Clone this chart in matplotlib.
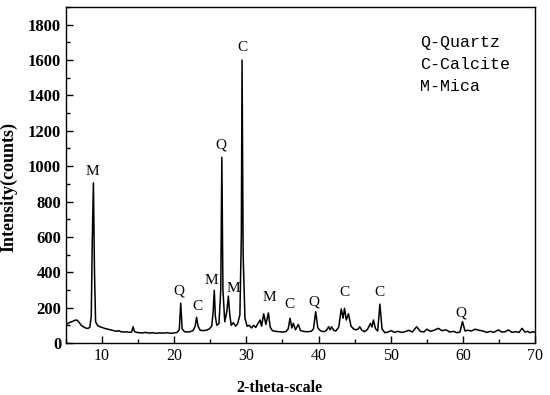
import matplotlib
matplotlib.use("Agg")
import matplotlib.pyplot as plt
from matplotlib.ticker import MultipleLocator

two_theta = [
    5.0, 5.3, 5.6, 5.9, 6.2, 6.5, 6.8, 7.1, 7.4, 7.7,
    8.0, 8.3, 8.5, 8.65, 8.8, 8.95, 9.1, 9.4, 9.7, 10.0,
    10.4, 10.8, 11.2, 11.6, 12.0, 12.3, 12.6, 13.0, 13.4, 13.8,
    14.1, 14.3, 14.5, 14.8, 15.2, 15.6, 16.0, 16.5, 17.0, 17.5,
    18.0, 18.5, 19.0, 19.5, 20.0, 20.4, 20.7, 20.9, 21.1, 21.4,
    21.8, 22.2, 22.6, 22.9, 23.1, 23.3, 23.6, 24.0, 24.4, 24.8,
    25.2, 25.4, 25.55, 25.7, 25.9, 26.2, 26.45, 26.6, 26.75, 27.0,
    27.3, 27.5, 27.7, 27.9, 28.2, 28.5, 28.8, 29.1, 29.3, 29.4,
    29.55, 29.8, 30.1, 30.4, 30.7, 31.0, 31.3, 31.6, 31.9, 32.1,
    32.4, 32.7, 33.05, 33.3, 33.6, 34.0, 34.5, 35.0, 35.5, 35.8,
    36.05, 36.3, 36.5, 36.8, 37.2, 37.5, 38.0, 38.5, 39.0, 39.3,
    39.6, 39.9, 40.3, 40.8, 41.1, 41.4, 41.6, 41.8, 42.1, 42.4,
    42.8, 43.15, 43.4, 43.6, 43.85, 44.15, 44.5, 44.9, 45.2, 45.5,
    45.7, 46.0, 46.4, 46.8, 47.2, 47.4, 47.6, 47.9, 48.2, 48.5,
    48.8, 49.2, 49.6, 50.1, 50.5, 51.0, 51.5, 52.0, 52.5, 53.0,
    53.6, 54.1, 54.6, 55.0, 55.5, 56.0, 56.6, 57.1, 57.7, 58.2,
    58.7, 59.2, 59.6, 59.95, 60.3, 60.7, 61.2, 61.7, 62.2, 62.8,
    63.3, 63.8, 64.3, 64.9, 65.4, 65.9, 66.3, 66.8, 67.3, 67.8,
    68.2, 68.6, 69.0, 69.3, 69.7, 70.0,
]
intensity = [
    105, 112, 118, 122, 128, 130, 118, 100, 92, 85,
    82, 88, 150, 600, 905, 400, 120, 98, 92, 88,
    82, 78, 74, 70, 66, 70, 64, 62, 63, 60,
    62, 92, 64, 60, 58, 57, 60, 56, 58, 55,
    57, 56, 58, 55, 57, 60, 75, 225, 80, 64,
    62, 64, 70, 95, 145, 95, 72, 70, 72, 78,
    95, 180, 298, 150, 100, 110, 300, 1050, 300, 120,
    180, 265, 160, 100, 115, 95, 110, 160, 600, 1600,
    500, 140, 95, 100, 85, 100, 88, 110, 130, 95,
    165, 105, 170, 90, 70, 66, 64, 62, 65, 80,
    140, 85, 112, 75, 105, 70, 65, 64, 66, 80,
    177, 85, 68, 64, 72, 92, 75, 92, 72, 68,
    90, 192, 140, 196, 130, 165, 95, 78, 74, 80,
    92, 72, 64, 78, 111, 90, 130, 80, 68, 220,
    80, 58, 62, 70, 60, 66, 60, 64, 72, 62,
    92, 66, 62, 78, 66, 72, 83, 70, 74, 62,
    66, 58, 62, 121, 68, 72, 68, 78, 72, 68,
    60, 66, 60, 74, 62, 64, 74, 60, 64, 60,
    83, 62, 66, 58, 64, 60,
]

label_text = ["M", "Q", "C", "M", "Q", "M", "C", "M", "C", "Q", "C", "C", "Q"]
label_x = [8.6, 20.7, 23.2, 25.1, 26.5, 28.2, 29.4, 33.2, 36.0, 39.4, 43.6, 48.5, 59.7]
label_y = [968, 294, 204, 356, 1120, 311, 1670, 260, 215, 232, 283, 283, 170]

legend_lines = ["Q-Quartz", "C-Calcite", "M-Mica"]

x_ticks = [10, 20, 30, 40, 50, 60, 70]
y_ticks = [0, 200, 400, 600, 800, 1000, 1200, 1400, 1600, 1800]

fig = plt.figure(figsize=(5.5, 3.95), dpi=100)
ax = fig.add_axes([66 / 550, 52 / 395, 469 / 550, 336 / 395])

ax.plot(two_theta, intensity, color="black", lw=1.1)

ax.set_xlim(5, 70)
ax.set_ylim(0, 1900)
ax.set_xticks(x_ticks)
ax.set_yticks(y_ticks)
ax.xaxis.set_minor_locator(MultipleLocator(5))
ax.yaxis.set_minor_locator(MultipleLocator(100))
ax.tick_params(which="both", direction="in", top=False, right=False)
ax.tick_params(which="major", length=5, width=1)
ax.tick_params(which="minor", length=3, width=1)

for lab in ax.get_xticklabels():
    lab.set_fontfamily("Liberation Serif")
    lab.set_fontsize(11.5)
for lab in ax.get_yticklabels():
    lab.set_fontfamily("Liberation Serif")
    lab.set_fontsize(12)
    lab.set_fontweight("bold")

for sp in ax.spines.values():
    sp.set_linewidth(1.0)

ax.set_xlabel("2-theta-scale", fontfamily="Liberation Serif", fontweight="bold", fontsize=11.5)
ax.set_ylabel("Intensity(counts)", fontfamily="Liberation Serif", fontweight="bold", fontsize=13)
ax.xaxis.set_label_coords(0.456, -0.11)
ax.yaxis.set_label_coords(-0.103, 0.465)

for t, x, y in zip(label_text, label_x, label_y):
    ax.text(x, y, t, ha="center", va="center", fontfamily="Liberation Serif", fontsize=11)

for i, line in enumerate(legend_lines):
    ax.text(0.755, 0.895 - i * 0.066, line, transform=ax.transAxes, ha="left", va="center",
            fontfamily="Liberation Mono", fontsize=12)

fig.savefig("out.png", dpi=100)
